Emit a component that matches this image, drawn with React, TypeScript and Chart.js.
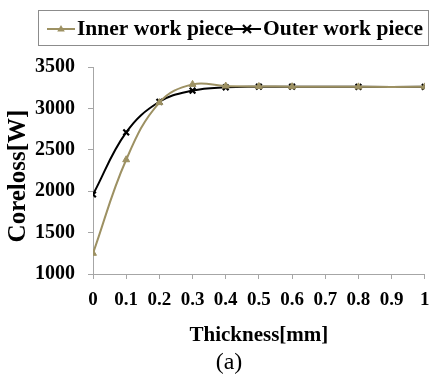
import React, { useEffect, useRef } from "react";
import { Chart, registerables } from "chart.js";

Chart.register(...registerables);

const thickness = [0, 0.1, 0.2, 0.3, 0.4, 0.5, 0.6, 0.8, 1];
const innerLoss = [1250, 2380, 3070, 3290, 3270, 3265, 3262, 3260, 3260];
const outerLoss = [1960, 2710, 3080, 3215, 3255, 3262, 3262, 3260, 3260];
const seriesNames = ["Inner work piece", "Outer work piece"];
const xTitle = "Thickness[mm]";
const yTitle = "Coreloss[W]";
const caption = "(a)";

const FONT = '"Liberation Serif", "Times New Roman", serif';
const INNER_COLOR = "#9d9163";
const OUTER_COLOR = "#000000";
const AXIS_COLOR = "#a6a6a6";

function drawMarker(ctx: CanvasRenderingContext2D, style: string, x: number, y: number, r: number, color: string) {
  ctx.save();
  ctx.fillStyle = color;
  ctx.strokeStyle = color;
  if (style === "triangle") {
    ctx.beginPath();
    ctx.moveTo(x, y - r);
    ctx.lineTo(x + r * 0.95, y + r * 0.65);
    ctx.lineTo(x - r * 0.95, y + r * 0.65);
    ctx.closePath();
    ctx.fill();
  } else {
    ctx.lineWidth = 2.2;
    ctx.beginPath();
    ctx.moveTo(x - r, y - r);
    ctx.lineTo(x + r, y + r);
    ctx.moveTo(x + r, y - r);
    ctx.lineTo(x - r, y + r);
    ctx.stroke();
  }
  ctx.restore();
}

const overlayPlugin = {
  id: "overlay",
  afterDraw(chart: any) {
    const ctx: CanvasRenderingContext2D = chart.ctx;
    ctx.save();
    // legend frame
    ctx.strokeStyle = "#8c8c8c";
    ctx.lineWidth = 1;
    ctx.strokeRect(38.5, 10.5, 390, 35);
    ctx.font = `bold 21.5px ${FONT}`;
    ctx.textBaseline = "alphabetic";
    ctx.textAlign = "left";
    const starts = [47, 233];
    chart.data.datasets.forEach((ds: any, i: number) => {
      const x0 = starts[i];
      ctx.strokeStyle = ds.borderColor;
      ctx.lineWidth = 2;
      ctx.beginPath();
      ctx.moveTo(x0, 29);
      ctx.lineTo(x0 + 28, 29);
      ctx.stroke();
      drawMarker(ctx, ds.pointStyle, x0 + 14, 29, 4, ds.borderColor);
      ctx.fillStyle = "#000";
      ctx.fillText(ds.label, x0 + 30, 35);
    });
    // y axis title
    ctx.save();
    ctx.translate(19, 176);
    ctx.rotate(-Math.PI / 2);
    ctx.font = `bold 25px ${FONT}`;
    ctx.textAlign = "center";
    ctx.textBaseline = "middle";
    ctx.fillStyle = "#000";
    ctx.fillText(yTitle, 0, 0);
    ctx.restore();
    // caption
    ctx.font = `24px ${FONT}`;
    ctx.textAlign = "center";
    ctx.textBaseline = "alphabetic";
    ctx.fillStyle = "#000";
    ctx.fillText(caption, 229, 369);
    ctx.restore();
  },
};

export default function App() {
  const ref = useRef<HTMLCanvasElement | null>(null);
  useEffect(() => {
    if (!ref.current) return;
    const chart = new Chart(ref.current, {
      type: "line",
      data: {
        datasets: [
          {
            label: seriesNames[0],
            data: thickness.map((x, i) => ({ x, y: innerLoss[i] })),
            borderColor: INNER_COLOR,
            backgroundColor: INNER_COLOR,
            borderWidth: 2,
            pointStyle: "triangle",
            pointRadius: 4,
            pointBorderWidth: 1,
            tension: 0.4,
          },
          {
            label: seriesNames[1],
            data: thickness.map((x, i) => ({ x, y: outerLoss[i] })),
            borderColor: OUTER_COLOR,
            backgroundColor: OUTER_COLOR,
            borderWidth: 2,
            pointStyle: "crossRot",
            pointRadius: 4,
            pointBorderWidth: 2.2,
            tension: 0.4,
          },
        ],
      },
      options: {
        responsive: false,
        animation: false,
        layout: { padding: { top: 67, right: 4, bottom: 0, left: 0 } },
        plugins: {
          legend: { display: false },
          tooltip: { enabled: false },
          title: { display: false },
        },
        scales: {
          x: {
            type: "linear",
            min: 0,
            max: 1,
            afterFit: (s: any) => {
              s.height = 107;
              s.paddingRight = 4;
            },
            ticks: {
              stepSize: 0.1,
              padding: 10,
              color: "#000",
              font: { family: FONT, size: 19, weight: "bold" },
              maxRotation: 0,
              autoSkip: false,
              callback: (v: any) => String(Math.round(Number(v) * 10) / 10),
            },
            grid: { drawOnChartArea: false, drawTicks: true, tickLength: 5, color: AXIS_COLOR },
            border: { display: true, color: AXIS_COLOR, width: 1 },
            title: {
              display: true,
              text: xTitle,
              color: "#000",
              font: { family: FONT, size: 21, weight: "bold" },
              padding: { top: 0, bottom: 33 },
            },
          },
          y: {
            min: 1000,
            max: 3500,
            afterFit: (s: any) => {
              s.width = 93;
            },
            ticks: {
              stepSize: 500,
              padding: 13,
              color: "#000",
              font: { family: FONT, size: 20, weight: "bold" },
              callback: (v: any) => String(v),
            },
            grid: { drawOnChartArea: false, drawTicks: true, tickLength: 5, color: AXIS_COLOR },
            border: { display: true, color: AXIS_COLOR, width: 1 },
            title: { display: false },
          },
        },
      },
      plugins: [overlayPlugin],
    } as any);
    return () => chart.destroy();
  }, []);
  return (
    <div style={{ position: "absolute", left: 0, top: 0, width: 431, height: 381, background: "#fff" }}>
      <canvas ref={ref} width={431} height={381} />
    </div>
  );
}
